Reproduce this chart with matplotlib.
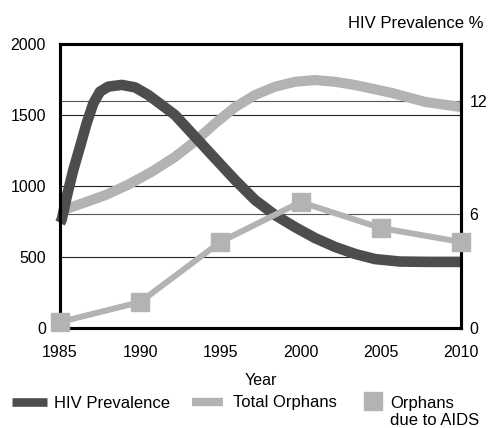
import matplotlib
matplotlib.use("Agg")
import matplotlib.pyplot as plt
from matplotlib.lines import Line2D

plt.rcParams['font.family'] = ['Liberation Sans', 'DejaVu Sans']
plt.rcParams['font.size'] = 11.5

# HIV prevalence (%), right axis
hiv_years = [1985, 1985.1, 1985.42, 1985.83, 1986.25, 1986.66, 1987.08, 1987.49,
             1988.01, 1988.85, 1989.68, 1990.5, 1991.34, 1992.17, 1993.42,
             1994.66, 1995.91, 1997.16, 1998.4, 1999.65, 2000.9, 2002.15,
             2003.4, 2004.64, 2006.2, 2008.07, 2010]
hiv_pct = [5.55, 5.7, 6.94, 8.35, 9.58, 10.81, 11.87, 12.48,
           12.75, 12.84, 12.71, 12.31, 11.78, 11.25, 10.1,
           8.96, 7.82, 6.76, 5.97, 5.33, 4.75, 4.28,
           3.91, 3.64, 3.51, 3.49, 3.49]

# Total orphans, left axis
tot_years = [1985, 1986.35, 1987.81, 1989.26, 1990.72, 1992.17, 1993.42, 1994.66,
             1995.91, 1997.16, 1998.4, 1999.65, 2000.9, 2002.15, 2003.4,
             2005.7, 2007.76, 2010]
tot_orphans = [824, 876, 935, 1010, 1100, 1205, 1315, 1440,
               1555, 1641, 1699, 1734, 1746, 1734, 1711,
               1655, 1592, 1556]

# Orphans due to AIDS, left axis
aids_years = [1985, 1990, 1995, 2000, 2005, 2010]
aids_orphans = [42, 183, 606, 887, 704, 606]

left_ticks = [0, 500, 1000, 1500, 2000]
right_ticks = [0, 6, 12]
year_ticks = [1985, 1990, 1995, 2000, 2005, 2010]

dark = '#4d4d4d'
light = '#b3b3b3'

W, H = 488, 428
fig = plt.figure(figsize=(W / 100, H / 100), dpi=100)
ax = fig.add_axes([60 / W, 1 - 328 / H, 401 / W, 284 / H])
ax2 = ax.twinx()
ax3 = ax.twinx()

ax.set_xlim(1985, 2010)
ax.set_ylim(0, 2000)
ax2.set_ylim(0, 15)
ax3.set_ylim(0, 2000)

# grid lines for both scales
for v in left_ticks[1:-1]:
    ax.axhline(v, color='#222222', lw=0.8, zorder=0)
for v in right_ticks[1:]:
    ax.axhline(v * 2000 / 15, color='#555555', lw=0.8, zorder=0)

ax.plot(tot_years, tot_orphans, color=light, lw=7.3, solid_capstyle='butt',
        solid_joinstyle='round')
ax2.plot(hiv_years, hiv_pct, color=dark, lw=7.6, solid_capstyle='butt',
         solid_joinstyle='round', clip_on=False)
ax3.plot(aids_years, aids_orphans, color=light, lw=4.3, marker='s',
         markersize=12.3, clip_on=False)

ax.set_xticks(year_ticks)
ax.set_yticks(left_ticks)
ax2.set_yticks(right_ticks)
ax.tick_params(axis='x', length=0, pad=12.5)
ax.tick_params(axis='y', length=0, pad=10)
ax2.tick_params(length=0, pad=6)
ax3.axis('off')

for a in (ax, ax2):
    for s in a.spines.values():
        s.set_linewidth(2.2)
        s.set_color('black')

ax.set_xlabel('Year', labelpad=9)
fig.text(483 / W, 1 - 23 / H, 'HIV Prevalence %', ha='right', va='center',
         fontsize=12)


# hand-placed legend (pixel positions)
def fx(px):
    return px / W


def fy(py):
    return 1 - py / H


fig.add_artist(Line2D([fx(12), fx(47)], [fy(402), fy(402)], color=dark,
                      lw=6.2, solid_capstyle='butt', transform=fig.transFigure))
fig.add_artist(Line2D([fx(192), fx(223)], [fy(402), fy(402)], color=light,
                      lw=6.0, solid_capstyle='butt', transform=fig.transFigure))
fig.add_artist(Line2D([fx(372.5)], [fy(401)], color=light, lw=0, marker='s',
                      markersize=12.3, transform=fig.transFigure))
fig.text(fx(54), fy(403), 'HIV Prevalence', ha='left', va='center', fontsize=12)
fig.text(fx(233), fy(403), 'Total Orphans', ha='left', va='center', fontsize=12)
fig.text(fx(390), fy(412), 'Orphans\ndue to AIDS', ha='left', va='center',
         fontsize=12, linespacing=1.15)

fig.savefig('out.png', dpi=100)
